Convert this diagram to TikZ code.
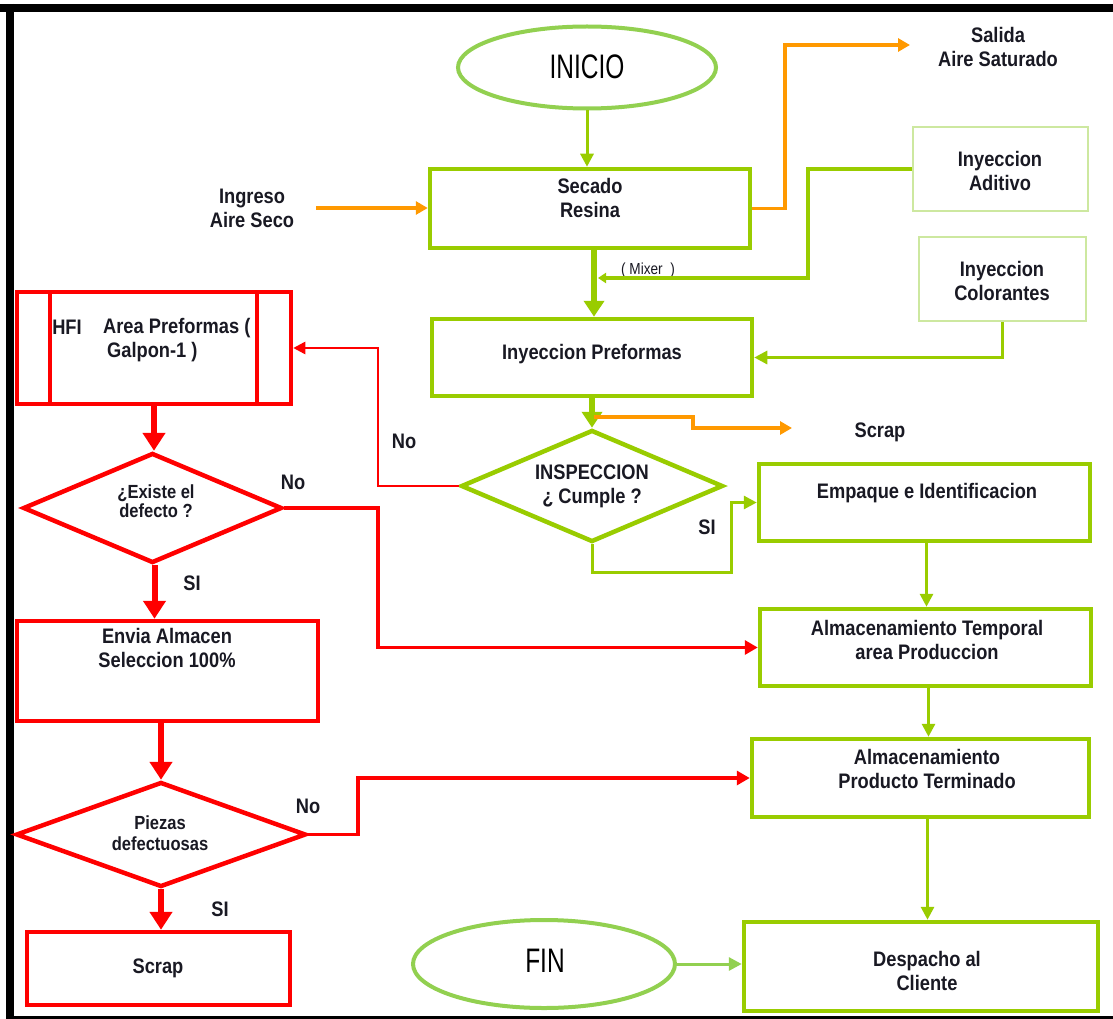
\documentclass[tikz,border=0pt]{standalone}
\usepackage{fontspec}
\usetikzlibrary{arrows.meta,shapes.geometric}
\newfontfamily\condb[FakeStretch=0.87]{Liberation Sans Bold}
\newfontfamily\condr[FakeStretch=0.85]{Liberation Sans}
\newfontfamily\narrowr[FakeStretch=0.72]{Liberation Sans}
\definecolor{gbox}{RGB}{153,204,0}
\definecolor{gell}{RGB}{146,208,80}
\definecolor{glight}{RGB}{205,232,160}
\definecolor{oline}{RGB}{255,153,0}
\definecolor{rline}{RGB}{255,0,0}
\definecolor{textc}{RGB}{25,25,35}
\begin{document}
\begin{tikzpicture}[x=1pt,y=-1pt,
  gboxs/.style={draw=gbox,line width=4.5pt,rectangle,inner sep=0pt},
  lboxs/.style={draw=glight,line width=2pt,rectangle,inner sep=0pt},
  rboxs/.style={draw=rline,line width=4.5pt,rectangle,inner sep=0pt},
  ells/.style={draw=gell,line width=4pt,ellipse,inner sep=0pt},
  gdia/.style={draw=gbox,line width=4.5pt,diamond,inner sep=0pt},
  rdia/.style={draw=rline,line width=4.5pt,diamond,inner sep=0pt},
  txt/.style={font=\condb\fontsize{21}{24}\selectfont,text=textc,align=center,inner sep=0pt},
  smalltxt/.style={font=\condb\fontsize{19}{19}\selectfont,text=textc,align=center,inner sep=0pt},
  bigtxt/.style={font=\narrowr\fontsize{34}{38}\selectfont,text=black,inner sep=0pt},
  garrow/.style={draw=gbox,line width=3pt,-{Triangle[length=13pt,width=13pt]}},
  gthick/.style={draw=gbox,line width=5.5pt,-{Triangle[length=16pt,width=20pt]}},
  gline/.style={draw=gbox,line width=3.5pt,-{Triangle[length=8pt,width=10pt]}},
  eline/.style={draw=gell,line width=3pt,-{Triangle[length=13pt,width=13pt]}},
  oarrow/.style={draw=oline,line width=3.5pt,-{Triangle[length=12pt,width=13pt]}},
  rthin/.style={draw=rline,line width=2.5pt,-{Triangle[length=12pt,width=12pt]}},
  rmed/.style={draw=rline,line width=3.5pt,-{Triangle[length=13pt,width=14pt]}},
  rthick/.style={draw=rline,line width=6pt,-{Triangle[length=18pt,width=22pt]}}
]
\useasboundingbox (0,0) rectangle (1113,1019);
\fill[white] (0,0) rectangle (1113,1019);
% frame
\draw[line width=8pt] (0,8) -- (1113,8);
\draw[line width=8pt] (10,4) -- (10,1019);
\draw[line width=3pt] (6,1017) -- (1113,1017);

% green nodes
\node[ells,minimum width=258pt,minimum height=82pt] (inicio) at (587,67.5) {};
\node[bigtxt] at (587,67) {INICIO};
\node[gboxs,minimum width=320pt,minimum height=79pt] (secado) at (590,208.5) {};
\node[txt] at (590,197.5) {Secado\\Resina};
\node[txt] (ingreso) at (252,208) {Ingreso\\Aire Seco};
\node[txt] (salida) at (998,47) {Salida\\Aire Saturado};
\coordinate (salidaIn) at (910,45);
\node[lboxs,minimum width=175pt,minimum height=84pt] (aditivo) at (1000.5,169) {};
\node[txt] at (1000,170.5) {Inyeccion\\Aditivo};
\node[lboxs,minimum width=167pt,minimum height=84pt] (colorantes) at (1002.5,279) {};
\node[txt] at (1002,280.5) {Inyeccion\\Colorantes};
\node[font=\condr\fontsize{16}{18}\selectfont,text=textc,inner sep=0pt] (mixer) at (648,270) {( Mixer~ )};
\node[gboxs,minimum width=320pt,minimum height=77pt] (preformas) at (592,357.5) {};
\node[txt] at (592,354) {Inyeccion Preformas};
\coordinate (scrapOut) at (594,417);
\coordinate (scrapIn) at (792,428);
\node[txt] (scraptxt) at (880,432) {Scrap};
\node[gdia,minimum width=262pt,minimum height=112pt] (insp) at (592,486) {};
\node[txt] at (592,486) {INSPECCION\\¿ Cumple ?};
\node[txt] at (707,527) {SI};
\node[gboxs,minimum width=331pt,minimum height=77pt] (empaque) at (924.5,502.5) {};
\node[txt] at (927,493) {Empaque e Identificacion};
\node[gboxs,minimum width=331pt,minimum height=77pt] (almtemp) at (925.5,647.5) {};
\node[txt] at (927,639.5) {Almacenamiento Temporal\\area Produccion};
\node[gboxs,minimum width=337pt,minimum height=78pt] (pt) at (920.5,778) {};
\node[txt] at (927,768.5) {Almacenamiento\\Producto Terminado};
\node[gboxs,minimum width=354pt,minimum height=89pt] (despacho) at (921,966.5) {};
\node[txt] at (927,970.5) {Despacho al\\Cliente};
\node[ells,minimum width=262pt,minimum height=88pt] (fin) at (544,964) {};
\node[bigtxt] at (545,961) {FIN};

% red nodes
\node[rboxs,minimum width=274pt,minimum height=112pt] (hfi) at (154,348) {};
\draw[draw=rline,line width=4.5pt] (50,292) -- (50,404);
\draw[draw=rline,line width=4.5pt] (257,292) -- (257,404);
\node[txt] at (67,327) {HFI};
\node[txt,align=left,anchor=north west] at (103,318) {Area Preformas (\\\hspace{4pt}Galpon-1 )};
\node[rdia,minimum width=259pt,minimum height=110pt] (existe) at (152.5,508) {};
\node[smalltxt] at (156,501) {¿Existe el\\defecto ?};
\node[txt] at (404,441) {No};
\node[txt] at (293,482) {No};
\node[txt] at (192,583) {SI};
\node[rboxs,minimum width=301pt,minimum height=100pt] (envia) at (167.5,671) {};
\node[txt] at (167,647.5) {Envia Almacen\\Seleccion 100\%};
\node[rdia,minimum width=290pt,minimum height=105pt] (piezas) at (161,834.5) {};
\node[font=\condb\fontsize{19}{21}\selectfont,text=textc,align=center,inner sep=0pt] at (160,833.5) {Piezas\\defectuosas};
\node[txt] at (308,806) {No};
\node[txt] at (220,909) {SI};
\node[rboxs,minimum width=263pt,minimum height=73pt] (scrapbox) at (158.5,968.5) {};
\node[txt] at (158,968) {Scrap};

% green connectors
\draw[garrow] (inicio.south) -- (inicio.south |- secado.north);
\draw[oarrow] ([xshift=22pt]ingreso.east) -- (secado.west |- ingreso.east);
\draw[oarrow] (secado.east) -| (785,45) -- (salidaIn);
\draw[gline] (aditivo.west) -| (808,278) -- (598,278);
\draw[gthick] ([xshift=4pt,yshift=4pt]secado.south) -- ([xshift=2pt]preformas.north);
\draw[garrow] (colorantes.south) |- (preformas.east);
\draw[gthick] (preformas.south) -- (insp.north);
\draw[oarrow] (scrapOut) -- (693,417) -- (693,428) -- (scrapIn);
\draw[garrow] (insp.south) |- (731,572) |- (empaque.west);
\draw[garrow] ([xshift=2pt]empaque.south) -- ([xshift=1pt]almtemp.north);
\draw[garrow] ([xshift=3pt]almtemp.south) -- ([xshift=3pt]almtemp.south |- pt.north);
\draw[garrow] ([xshift=7pt]pt.south) -- ([xshift=7pt]pt.south |- despacho.north);
\draw[eline] (fin.east) -- (despacho.west |- fin.east);

% red connectors
\draw[rthin] (insp.west) -| (378,348) -- (hfi.east);
\draw[rthick] (hfi.south) -- (hfi.south |- existe.north);
\draw[rmed] (existe.east) -| (378,647.5) -- (almtemp.west);
\draw[rthick] ([xshift=2pt]existe.south) -- ([xshift=2pt]existe.south |- envia.north);
\draw[rthick] (piezas.north |- envia.south) -- (piezas.north);
\draw[rmed] (piezas.east) -| (358,778) -- (pt.west);
\draw[rthick] (piezas.south) -- (piezas.south |- scrapbox.north);
\end{tikzpicture}
\end{document}
